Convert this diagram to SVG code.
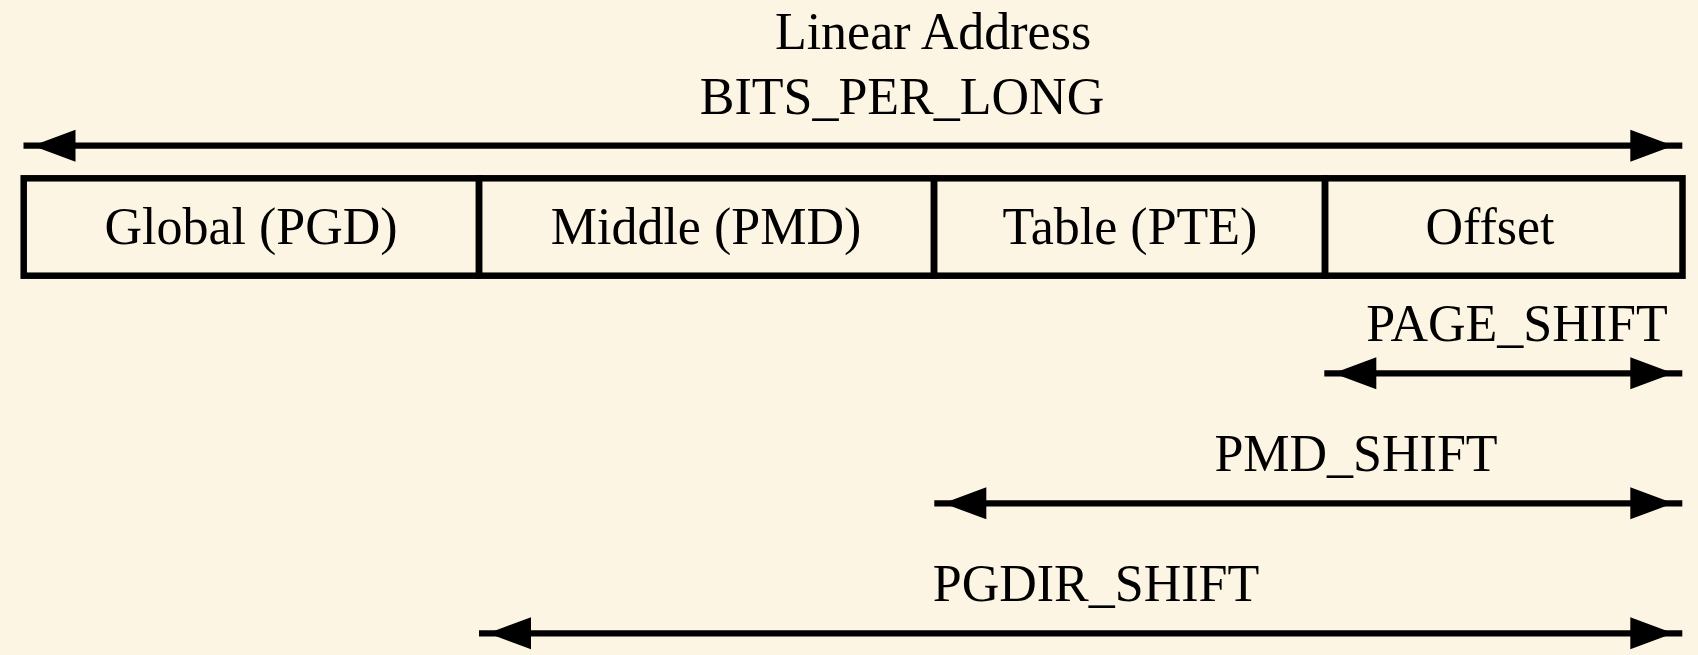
<svg xmlns="http://www.w3.org/2000/svg" width="1698" height="655" viewBox="0 0 1698 655">
<defs>
<style>
text{font-family:"Liberation Serif","Times New Roman",serif;font-size:52px;fill:#000;text-anchor:middle}
.box{fill:none;stroke:#000;stroke-width:6.5}
.arr{stroke:#000;stroke-width:6.3;fill:none;marker-start:url(#ah);marker-end:url(#ah)}
</style>
<marker id="ah" viewBox="-60 -20 60 40" markerWidth="60" markerHeight="40" refX="0" refY="0" markerUnits="userSpaceOnUse" orient="auto-start-reverse">
<path d="M-52,-16 L-9,0 L-52,16 z" fill="#000"/>
</marker>
</defs>
<rect width="1698" height="655" fill="#fdf5e3"/>
<g id="title">
<text x="933" y="49">Linear Address</text>
<text x="902" y="114">BITS_PER_LONG</text>
</g>
<g id="pgd"><rect class="box" x="23.7" y="178.3" width="455.3" height="97.4"/><text x="251" y="244">Global (PGD)</text></g>
<g id="pmd"><rect class="box" x="479" y="178.3" width="455" height="97.4"/><text x="706" y="244">Middle (PMD)</text></g>
<g id="pte"><rect class="box" x="934" y="178.3" width="391" height="97.4"/><text x="1130" y="244">Table (PTE)</text></g>
<g id="offset"><rect class="box" x="1325" y="178.3" width="357.5" height="97.4"/><text x="1490" y="244">Offset</text></g>
<g id="labels">
<text x="1517" y="341">PAGE_SHIFT</text>
<text x="1356" y="471">PMD_SHIFT</text>
<text x="1096" y="601">PGDIR_SHIFT</text>
</g>
<g id="connectors">
<line class="arr" x1="23.5" y1="145.7" x2="1682.3" y2="145.7"/>
<line class="arr" x1="1324.3" y1="373.3" x2="1682.3" y2="373.3"/>
<line class="arr" x1="934.3" y1="503.3" x2="1682.3" y2="503.3"/>
<line class="arr" x1="479" y1="633.3" x2="1682.3" y2="633.3"/>
</g>
</svg>
